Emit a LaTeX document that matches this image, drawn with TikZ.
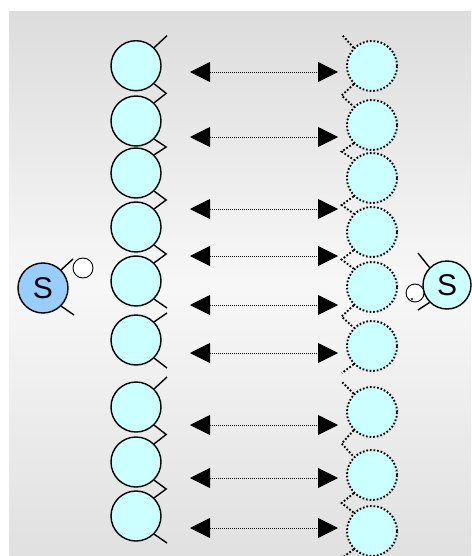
\documentclass[tikz,border=0pt]{standalone}
\usepackage{fontspec}
\setmainfont{Liberation Sans}
\usepackage{xcolor}
\usepackage{tikz}
\usetikzlibrary{calc}
\usetikzlibrary{arrows.meta}
\usetikzlibrary{backgrounds}

\definecolor{ballcyan}{HTML}{CCFFFF}
\definecolor{ballblue}{HTML}{99CCFF}

\begin{document}
\begin{tikzpicture}[x=1pt, y=-1pt,
		ball/.style={circle, draw=black, line width=1.4pt, fill=ballcyan, minimum size=50pt, inner sep=0pt},
		ghost/.style={ball, line width=1.9pt, dash pattern=on 1.7pt off 1.9pt},
		stick/.style={line width=1.4pt},
		ghoststick/.style={line width=1.9pt, dash pattern=on 1.7pt off 1.9pt},
		hole/.style={circle, draw=black, line width=0.9pt, fill=white, inner sep=0pt},
		pair/.style={{Triangle[length=20pt,width=20pt]}-{Triangle[length=20pt,width=20pt]}, line width=0.8pt, dash pattern=on 0.8pt off 1.2pt}]
				\useasboundingbox (0,0) rectangle (471,556);
				\fill[top color=gray!27, bottom color=gray!24, middle color=white!97!black] (9,12) rectangle (471,556);
				% left strand
				\node[ball] (L1) at (136,65.7){};
				\node[ball] (L2) at (136,121){};
				\node[ball] (L3) at (136,173){};
				\node[ball] (L4) at (136,227){};
				\node[ball] (L5) at (136,281){};
				\node[ball] (L6) at (136,340){};
				\node[ball] (L7) at (136,407){};
				\node[ball] (L8) at (136,462){};
				\node[ball] (L9) at (136,516){};
				% right strand
				\node[ghost] (R1) at (372,66){};
				\node[ghost] (R2) at (372,125){};
				\node[ghost] (R3) at (372,178){};
				\node[ghost] (R4) at (372,232){};
				\node[ghost] (R5) at (372,287){};
				\node[ghost] (R6) at (372,346){};
				\node[ghost] (R7) at (372,412){};
				\node[ghost] (R8) at (372,475){};
				\node[ghost] (R9) at (372,531){};
				% free stick ends
				\coordinate (L1t) at ($(L1)+(31,-30)$);
				\coordinate (L5b) at ($(L5)+(31,27)$);
				\coordinate (L6t) at ($(L6)+(31,-27)$);
				\coordinate (L6b) at ($(L6)+(31,28)$);
				\coordinate (L7t) at ($(L7)+(31,-30)$);
				\coordinate (L9b) at ($(L9)+(31,27)$);
				\coordinate (R1t) at ($(R1)+(-30,-31)$);
				\coordinate (R6b) at ($(R6)+(-30,27)$);
				\coordinate (R7t) at ($(R7)+(-30,-30)$);
				\coordinate (R9b) at ($(R9)+(-30,27)$);
				\draw[stick] (L1.45) -- (L1t);
				\draw[stick] (L1.-45) -- ($(L1.-45)!0.5!(L2.45)+(12,0)$) -- (L2.45);
				\draw[stick] (L2.-45) -- ($(L2.-45)!0.5!(L3.45)+(12,0)$) -- (L3.45);
				\draw[stick] (L3.-45) -- ($(L3.-45)!0.5!(L4.45)+(12,0)$) -- (L4.45);
				\draw[stick] (L4.-45) -- ($(L4.-45)!0.5!(L5.45)+(12,0)$) -- (L5.45);
				\draw[stick] (L5.-45) -- (L5b);
				\draw[stick] (L6.45) -- (L6t);
				\draw[stick] (L6.-45) -- (L6b);
				\draw[stick] (L7.45) -- (L7t);
				\draw[stick] (L7.-45) -- ($(L7.-45)!0.5!(L8.45)+(12,0)$) -- (L8.45);
				\draw[stick] (L8.-45) -- ($(L8.-45)!0.5!(L9.45)+(12,0)$) -- (L9.45);
				\draw[stick] (L9.-45) -- (L9b);
				\draw[ghoststick] (R1.135) -- (R1t);
				\draw[ghoststick] (R1.225) -- ($(R1.225)!0.5!(R2.135)+(-12,0)$) -- (R2.135);
				\draw[ghoststick] (R2.225) -- ($(R2.225)!0.5!(R3.135)+(-12,0)$) -- (R3.135);
				\draw[ghoststick] (R3.225) -- ($(R3.225)!0.5!(R4.135)+(-12,0)$) -- (R4.135);
				\draw[ghoststick] (R4.225) -- ($(R4.225)!0.5!(R5.135)+(-12,0)$) -- (R5.135);
				\draw[ghoststick] (R5.225) -- ($(R5.225)!0.5!(R6.135)+(-12,0)$) -- (R6.135);
				\draw[ghoststick] (R6.225) -- (R6b);
				\draw[ghoststick] (R7.135) -- (R7t);
				\draw[ghoststick] (R7.225) -- ($(R7.225)!0.5!(R8.135)+(-12,0)$) -- (R8.135);
				\draw[ghoststick] (R8.225) -- ($(R8.225)!0.5!(R9.135)+(-12,0)$) -- (R9.135);
				\draw[ghoststick] (R9.225) -- (R9b);
				% pairing arrows
				\coordinate (a1) at (190,72);  \coordinate (b1) at (338,72);
				\coordinate (a2) at (190,137); \coordinate (b2) at (338,137);
				\coordinate (a3) at (190,209); \coordinate (b3) at (338,209);
				\coordinate (a4) at (190,256); \coordinate (b4) at (338,256);
				\coordinate (a5) at (190,305); \coordinate (b5) at (338,305);
				\coordinate (a6) at (190,353); \coordinate (b6) at (338,353);
				\coordinate (a7) at (190,425); \coordinate (b7) at (338,425);
				\coordinate (a8) at (190,478); \coordinate (b8) at (338,478);
				\coordinate (a9) at (190,528); \coordinate (b9) at (338,528);
				\draw[pair] (a1) -- (b1);
				\draw[pair] (a2) -- (b2);
				\draw[pair] (a3) -- (b3);
				\draw[pair] (a4) -- (b4);
				\draw[pair] (a5) -- (b5);
				\draw[pair] (a6) -- (b6);
				\draw[pair] (a7) -- (b7);
				\draw[pair] (a8) -- (b8);
				\draw[pair] (a9) -- (b9);
				% the two S units
				\node[ball, fill=ballblue, font=\fontsize{30}{30}\selectfont] (Sl) at (43,288){S};
				\coordinate (Slt) at ($(Sl)+(30,-29)$);
				\coordinate (Slb) at ($(Sl)+(31,27)$);
				\draw[stick] (Sl.45) -- (Slt);
				\draw[stick] (Sl.-45) -- (Slb);
				\node[hole, minimum size=20pt] (hl) at (83,268){};
				\node[ball, minimum size=48pt, font=\fontsize{30}{30}\selectfont] (Sr) at (447,285){S};
				\coordinate (Srt) at ($(Sr)+(-29,-32)$);
				\coordinate (Srb) at ($(Sr)+(-29,25)$);
				\draw[stick] (Sr.135) -- (Srt);
				\draw[stick] (Sr.225) -- (Srb);
				\node[hole, minimum size=18pt] (hr) at (415,293){};
				\fill ($(hr)+(-3,6)$) circle (1.1);
		\end{tikzpicture}
\end{document}
